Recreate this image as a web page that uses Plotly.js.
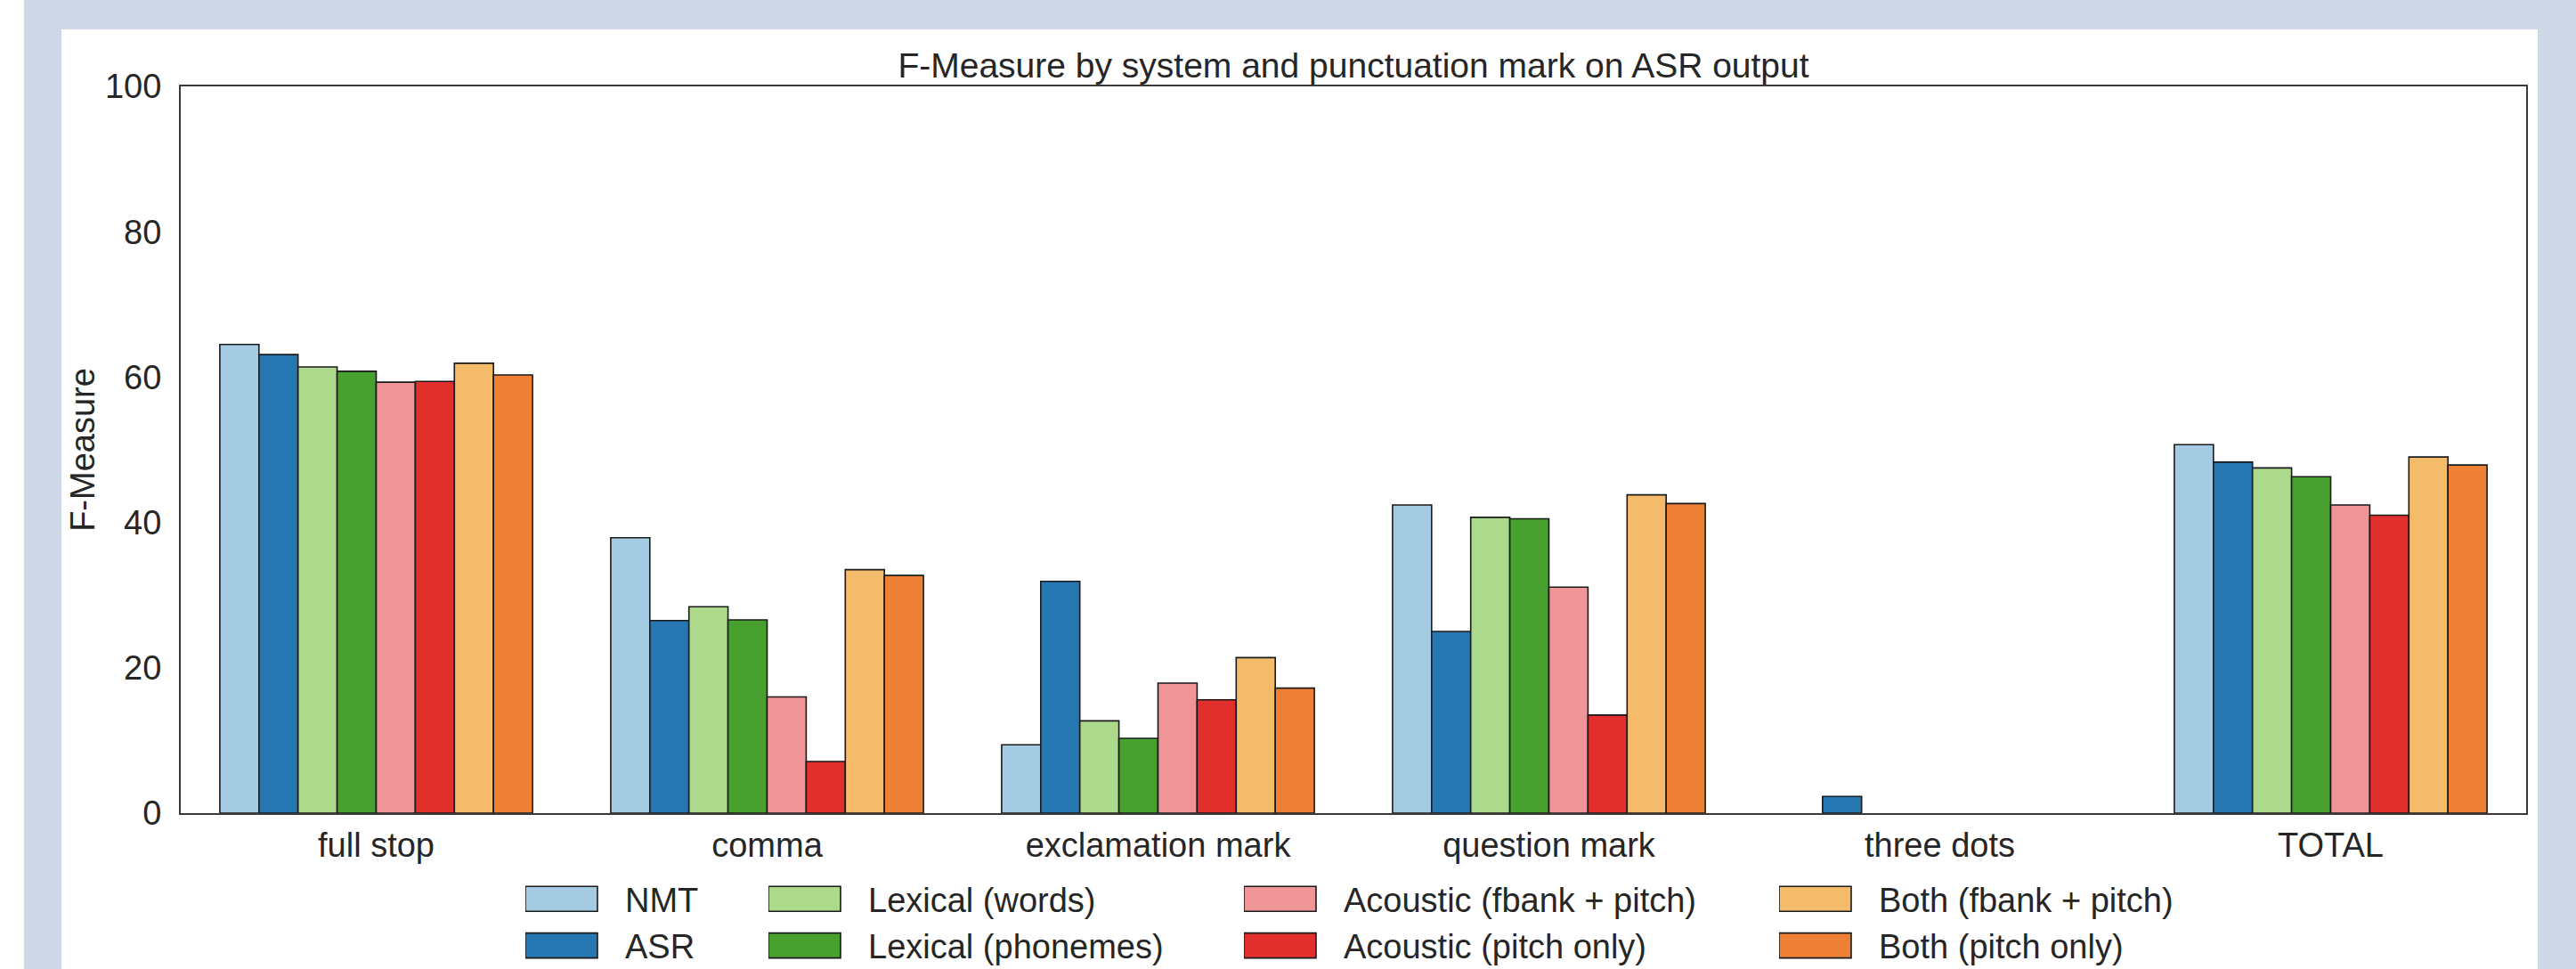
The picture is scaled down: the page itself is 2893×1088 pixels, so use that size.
<!DOCTYPE html>
<html>
<head>
<meta charset="utf-8">
<script src="https://cdn.plot.ly/plotly-3.0.1.min.js"></script>
<style>
html,body{margin:0;padding:0;background:#CFD8E6;}
#chart{width:2893px;height:1088px;}
</style>
</head>
<body>
<div id="chart"></div>
<script>
// ---- data ----
const categories = ['full stop', 'comma', 'exclamation mark', 'question mark', 'three dots', 'TOTAL'];
const seriesNames = ['NMT', 'ASR', 'Lexical (words)', 'Lexical (phonemes)', 'Acoustic (fbank + pitch)', 'Acoustic (pitch only)', 'Both (fbank + pitch)', 'Both (pitch only)'];
const nmt       = [64.5, 37.9,  9.4, 42.4, 0.0, 50.7];
const asr       = [63.1, 26.5, 31.9, 25.0, 2.3, 48.3];
const lexWords  = [61.4, 28.4, 12.7, 40.7, 0.0, 47.5];
const lexPhon   = [60.8, 26.6, 10.3, 40.5, 0.0, 46.3];
const acFbank   = [59.3, 16.0, 17.9, 31.1, 0.0, 42.4];
const acPitch   = [59.4,  7.1, 15.6, 13.5, 0.0, 41.0];
const bothFbank = [61.9, 33.5, 21.4, 43.8, 0.0, 49.0];
const bothPitch = [60.3, 32.7, 17.2, 42.6, 0.0, 47.9];
const yTicks = [0, 20, 40, 60, 80, 100];

// ---- styling ----
const colors = ['#a4cbe1', '#2676b2', '#acd98b', '#48a02f', '#f09597', '#e02f2d', '#f4bb6a', '#ee8035'];
const seriesValues = [nmt, asr, lexWords, lexPhon, acFbank, acPitch, bothFbank, bothPitch];
const legendIds = ['legend', 'legend', 'legend2', 'legend2', 'legend3', 'legend3', 'legend4', 'legend4'];

const W = 2893, H = 1088;
const L = 203, R = 2837, T = 97, B = 913;
const pw = R - L, ph = B - T;
const px2x = p => (p - L) / pw;
const px2y = p => (B - p) / ph;
const textColor = '#262626';
const FONT = 'Liberation Sans, Arial, Helvetica, sans-serif';
const ITEMW = 102;

// legend swatch geometry (wide rectangles like the original)
const swCenter = (ITEMW + 10) / 2;
const swRight = (ITEMW + 10) - 31 - swCenter;
const swLeft = swRight - 81;
const swPath = 'M' + swLeft + ',-14H' + swRight + 'V14H' + swLeft + 'Z';
const st = document.createElement('style');
st.textContent = 'path.legendbar{d:path("' + swPath + '");}';
document.head.appendChild(st);

const traces = seriesValues.map((vals, i) => ({
  type: 'bar',
  name: seriesNames[i],
  x: categories,
  y: vals,
  marker: {color: colors[i], line: {color: '#1a1a1a', width: vals.map(v => v > 0 ? 1.6 : 0)}},
  legend: legendIds[i],
  legendgroup: 'g' + i,
  hoverinfo: 'x+y+name'
}));

function legendAt(pxLeft) {
  return {
    x: px2x(pxLeft), xanchor: 'left', xref: 'paper',
    y: px2y(978), yanchor: 'top', yref: 'paper',
    orientation: 'v',
    font: {family: FONT, size: 38, color: textColor},
    itemwidth: ITEMW,
    bgcolor: 'rgba(0,0,0,0)',
    borderwidth: 0,
    tracegroupgap: 5,
    traceorder: 'normal'
  };
}

const layout = {
  width: W, height: H,
  margin: {l: L, r: W - R, t: T, b: H - B, pad: 0, autoexpand: false},
  paper_bgcolor: '#CFD8E6',
  plot_bgcolor: '#ffffff',
  font: {family: FONT, color: textColor},
  title: {
    text: 'F-Measure by system and punctuation mark on ASR output',
    font: {family: FONT, size: 39, color: textColor},
    x: 0.5, xref: 'paper', xanchor: 'center',
    y: 1, yref: 'paper', yanchor: 'bottom',
    pad: {b: 10}
  },
  barmode: 'group',
  bargap: 0.2,
  bargroupgap: 0,
  xaxis: {
    type: 'category',
    showgrid: false, zeroline: false,
    showline: true, mirror: true, linecolor: '#3a3a3a', linewidth: 2,
    ticks: '', ticklabelstandoff: 1,
    tickfont: {family: FONT, size: 38, color: textColor},
    automargin: false
  },
  yaxis: {
    range: [0, 100], tickvals: yTicks, ticktext: yTicks.map(String),
    showgrid: false, zeroline: false,
    showline: true, mirror: true, linecolor: '#3a3a3a', linewidth: 2,
    ticks: '', ticklabelstandoff: 12,
    tickfont: {family: FONT, size: 38, color: textColor},
    title: {text: 'F-Measure', font: {family: FONT, size: 38, color: textColor}, standoff: 0},
    automargin: false
  },
  legend: legendAt(590),
  legend2: legendAt(863),
  legend3: legendAt(1397),
  legend4: legendAt(1998),
  shapes: [
    {type: 'rect', xref: 'paper', yref: 'paper', layer: 'below',
     x0: px2x(69), x1: px2x(2850), y0: px2y(H + 20), y1: px2y(33),
     fillcolor: '#ffffff', line: {width: 0}},
    {type: 'rect', xref: 'paper', yref: 'paper', layer: 'below',
     x0: px2x(0), x1: px2x(27), y0: px2y(H + 20), y1: px2y(0),
     fillcolor: '#ffffff', line: {width: 0}}
  ],
  showlegend: true
};

function fixLegend() {
  document.querySelectorAll('g.legendpoints path').forEach(p => {
    const d = p.getAttribute('d') || '';
    if (p.classList.contains('legendbar') || d === 'M6,6H-6V-6H6Z') p.setAttribute('d', swPath);
  });
}

Plotly.newPlot('chart', traces, layout, {displayModeBar: false, staticPlot: true}).then(gd => {
  fixLegend();
  gd.on('plotly_afterplot', fixLegend);
  setTimeout(fixLegend, 50);
  setTimeout(fixLegend, 300);
});
</script>
</body>
</html>
